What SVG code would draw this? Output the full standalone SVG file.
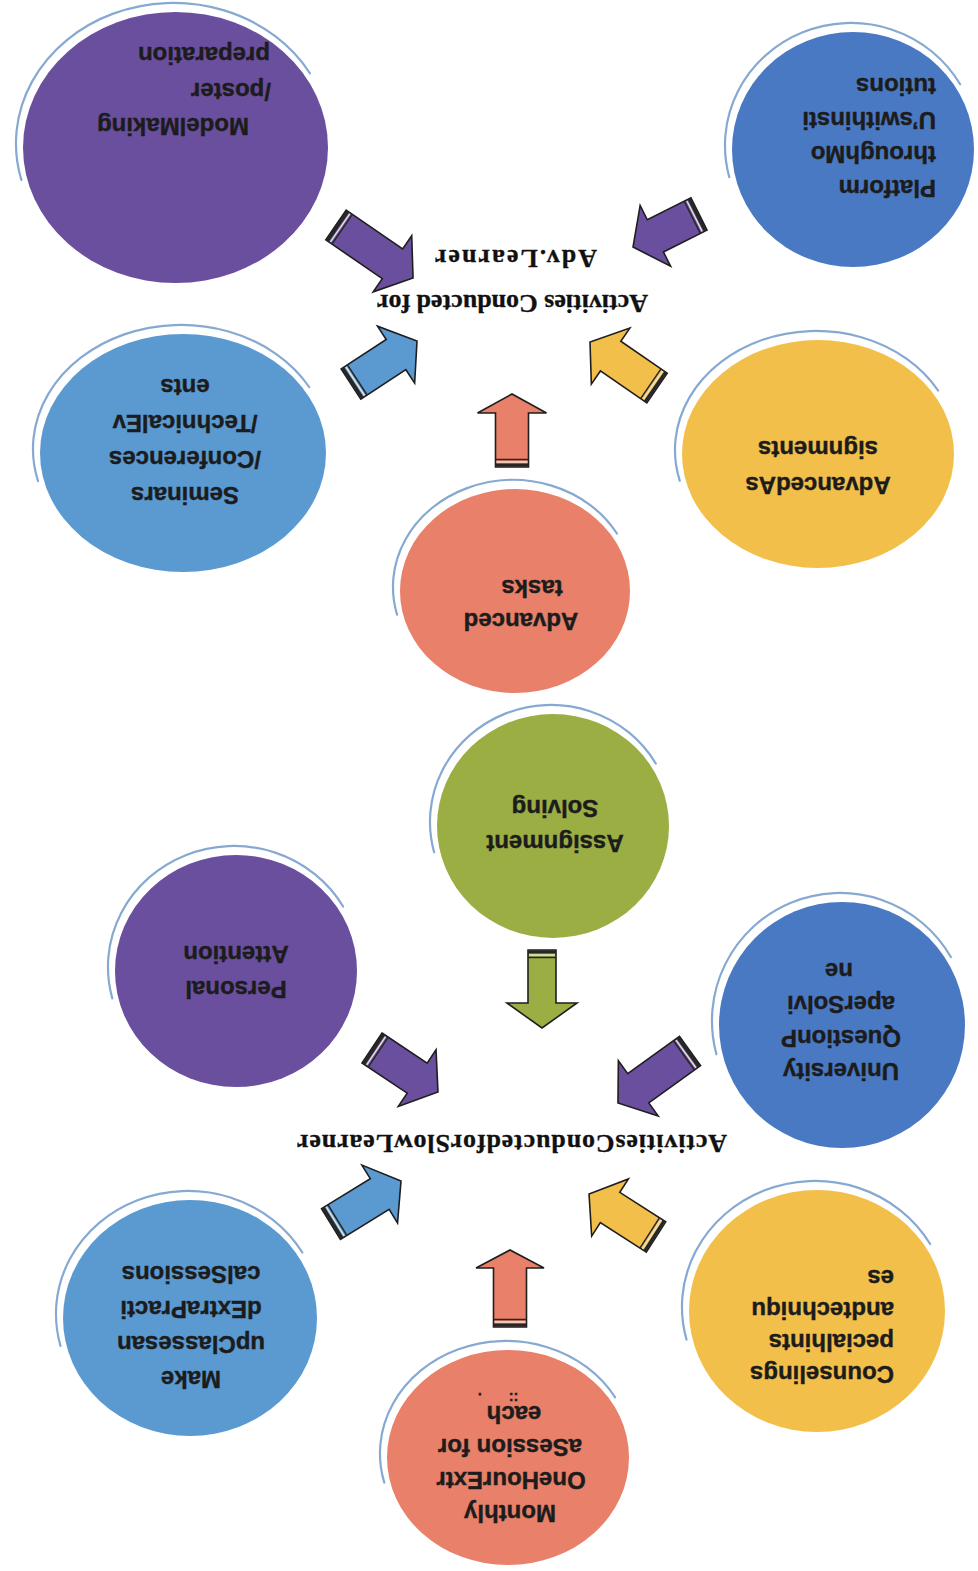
<svg xmlns="http://www.w3.org/2000/svg" xmlns:xlink="http://www.w3.org/1999/xlink" width="978" height="1571" viewBox="0 0 978 1571">
<style>
.nt{font-family:"Liberation Sans",Arial,sans-serif;font-weight:bold;font-size:24px;fill:#1c1c1c;stroke:#1c1c1c;stroke-width:0.4}
.tt{font-family:"Liberation Serif","Times New Roman",serif;font-weight:bold;font-size:26px;fill:#111;stroke:#111;stroke-width:0.3}
.arc{fill:none;stroke:#86a9d2;stroke-width:2.2;vector-effect:non-scaling-stroke;stroke-linecap:round}
.ab{stroke:#1e1e1e;stroke-width:1.6;stroke-linejoin:miter}
.sd{stroke:#262626}
.sl{stroke:#e6e2d6}
.purple{fill:#6a4f9e}.blue{fill:#4a79c4}.lblue{fill:#5a9ad1}.salmon{fill:#e8806a}.yellow{fill:#f2bf4a}.green{fill:#9aae44}
</style>
<defs>
<path id="arc" class="arc" d="M -0.966,0.259 A 1 1 0 0 1 0.866,-0.5"/>
</defs>
<rect width="978" height="1571" fill="#ffffff"/>

<g id="connectors">
<g transform="translate(336,225) rotate(34.5)"><path class="ab purple" d="M0,-18 H68.5 V-34 L93.5,0 L68.5,34 V18 H0 Z"/><line class="sd" x1="2" y1="-18" x2="2" y2="18" stroke-width="3"/><line class="sl" x1="5" y1="-17" x2="5" y2="17" stroke-width="1.5"/><line class="sd" x1="7.5" y1="-18" x2="7.5" y2="18" stroke-width="1.5"/></g>
<g transform="translate(351,384) rotate(-33.1)"><path class="ab lblue" d="M0,-18 H53.8 V-34 L78.8,0 L53.8,34 V18 H0 Z"/><line class="sd" x1="2" y1="-18" x2="2" y2="18" stroke-width="3"/><line class="sl" x1="5" y1="-17" x2="5" y2="17" stroke-width="1.5"/><line class="sd" x1="7.5" y1="-18" x2="7.5" y2="18" stroke-width="1.5"/></g>
<g transform="translate(512,467) rotate(-90)"><path class="ab salmon" d="M0,-16.5 H54 V-34.5 L73,0 L54,34.5 V16.5 H0 Z"/><line class="sd" x1="2" y1="-16.5" x2="2" y2="16.5" stroke-width="3"/><line class="sl" x1="5" y1="-15.5" x2="5" y2="15.5" stroke-width="1.5"/><line class="sd" x1="7.5" y1="-16.5" x2="7.5" y2="16.5" stroke-width="1.5"/></g>
<g transform="translate(657,388) rotate(214.5)"><path class="ab yellow" d="M0,-18 H56.3 V-34 L81.3,0 L56.3,34 V18 H0 Z"/><line class="sd" x1="2" y1="-18" x2="2" y2="18" stroke-width="3"/><line class="sl" x1="5" y1="-17" x2="5" y2="17" stroke-width="1.5"/><line class="sd" x1="7.5" y1="-18" x2="7.5" y2="18" stroke-width="1.5"/></g>
<g transform="translate(699,214) rotate(153.4)"><path class="ab purple" d="M0,-18 H48.8 V-34 L73.8,0 L48.8,34 V18 H0 Z"/><line class="sd" x1="2" y1="-18" x2="2" y2="18" stroke-width="3"/><line class="sl" x1="5" y1="-17" x2="5" y2="17" stroke-width="1.5"/><line class="sd" x1="7.5" y1="-18" x2="7.5" y2="18" stroke-width="1.5"/></g>

<g transform="translate(372,1048) rotate(33.7)"><path class="ab purple" d="M0,-18 H54.3 V-34 L79.3,0 L54.3,34 V18 H0 Z"/><line class="sd" x1="2" y1="-18" x2="2" y2="18" stroke-width="3"/><line class="sl" x1="5" y1="-17" x2="5" y2="17" stroke-width="1.5"/><line class="sd" x1="7.5" y1="-18" x2="7.5" y2="18" stroke-width="1.5"/></g>
<g transform="translate(690,1051) rotate(144.2)"><path class="ab purple" d="M0,-18 H63.8 V-34 L88.8,0 L63.8,34 V18 H0 Z"/><line class="sd" x1="2" y1="-18" x2="2" y2="18" stroke-width="3"/><line class="sl" x1="5" y1="-17" x2="5" y2="17" stroke-width="1.5"/><line class="sd" x1="7.5" y1="-18" x2="7.5" y2="18" stroke-width="1.5"/></g>
<g transform="translate(331,1224) rotate(-31.6)"><path class="ab lblue" d="M0,-18 H57.2 V-34 L82.2,0 L57.2,34 V18 H0 Z"/><line class="sd" x1="2" y1="-18" x2="2" y2="18" stroke-width="3"/><line class="sl" x1="5" y1="-17" x2="5" y2="17" stroke-width="1.5"/><line class="sd" x1="7.5" y1="-18" x2="7.5" y2="18" stroke-width="1.5"/></g>
<g transform="translate(656,1237) rotate(212.7)"><path class="ab yellow" d="M0,-18 H54.6 V-34 L79.6,0 L54.6,34 V18 H0 Z"/><line class="sd" x1="2" y1="-18" x2="2" y2="18" stroke-width="3"/><line class="sl" x1="5" y1="-17" x2="5" y2="17" stroke-width="1.5"/><line class="sd" x1="7.5" y1="-18" x2="7.5" y2="18" stroke-width="1.5"/></g>
<g transform="translate(510,1327) rotate(-90)"><path class="ab salmon" d="M0,-16.5 H59 V-34 L77,0 L59,34 V16.5 H0 Z"/><line class="sd" x1="2" y1="-16.5" x2="2" y2="16.5" stroke-width="3"/><line class="sl" x1="5" y1="-15.5" x2="5" y2="15.5" stroke-width="1.5"/><line class="sd" x1="7.5" y1="-16.5" x2="7.5" y2="16.5" stroke-width="1.5"/></g>
<g transform="translate(542,950) rotate(90)"><path class="ab green" d="M0,-14 H53 V-35 L78,0 L53,35 V14 H0 Z"/><line class="sd" x1="2" y1="-14" x2="2" y2="14" stroke-width="3"/><line class="sl" x1="5" y1="-13" x2="5" y2="13" stroke-width="1.5"/><line class="sd" x1="7.5" y1="-14" x2="7.5" y2="14" stroke-width="1.5"/></g>
</g>

<g id="title-adv">
<text class="tt" x="512.5" y="295" text-anchor="middle" textLength="271" transform="rotate(180 512.5 295)">Activities Conducted for</text>
<text class="tt" x="516" y="250" text-anchor="middle" textLength="162" transform="rotate(180 516 250)">Adv.Learner</text>
</g>
<g id="title-slow">
<text class="tt" x="512" y="1135" text-anchor="middle" textLength="430" transform="rotate(180 512 1135)">ActivitiesConductedforSlowLearner</text>
</g>

<g id="node-modelmaking">
<use href="#arc" transform="translate(173.5,143.5) scale(157.5,140.5)"/>
<ellipse class="purple" cx="175.5" cy="147.5" rx="152.5" ry="135.5"/>
<text class="nt" x="173" y="118" text-anchor="middle" transform="rotate(180 173 118)">ModelMaking</text>
<text class="nt" x="231" y="83" text-anchor="middle" transform="rotate(180 231 83)">/poster</text>
<text class="nt" x="204" y="47" text-anchor="middle" transform="rotate(180 204 47)">preparation</text>
</g>

<g id="node-platform">
<use href="#arc" transform="translate(851,145.5) scale(126,122.5)"/>
<ellipse class="blue" cx="853" cy="149.5" rx="121" ry="117.5"/>
<text class="nt" x="936" y="180" transform="rotate(180 936 180)">Platform</text>
<text class="nt" x="936" y="146" transform="rotate(180 936 146)">throughMo</text>
<text class="nt" x="936" y="112" transform="rotate(180 936 112)">U’swithinsti</text>
<text class="nt" x="936" y="78" transform="rotate(180 936 78)">tutions</text>
</g>

<g id="node-seminars">
<use href="#arc" transform="translate(181,449) scale(148,124)"/>
<ellipse class="lblue" cx="183" cy="453" rx="143" ry="119"/>
<text class="nt" x="185" y="487" text-anchor="middle" transform="rotate(180 185 487)">Seminars</text>
<text class="nt" x="185" y="451" text-anchor="middle" transform="rotate(180 185 451)">/Conferences</text>
<text class="nt" x="185" y="415" text-anchor="middle" transform="rotate(180 185 415)">/TechnicalEv</text>
<text class="nt" x="185" y="379" text-anchor="middle" transform="rotate(180 185 379)">ents</text>
</g>

<g id="node-advtasks">
<use href="#arc" transform="translate(513,587) scale(120,107)"/>
<ellipse class="salmon" cx="515" cy="591" rx="115" ry="102"/>
<text class="nt" x="521" y="613" text-anchor="middle" transform="rotate(180 521 613)">Advanced</text>
<text class="nt" x="532" y="580" text-anchor="middle" transform="rotate(180 532 580)">tasks</text>
</g>

<g id="node-advassign">
<use href="#arc" transform="translate(816,450) scale(141,119)"/>
<ellipse class="yellow" cx="818" cy="454" rx="136" ry="114"/>
<text class="nt" x="818" y="477" text-anchor="middle" transform="rotate(180 818 477)">AdvancedAs</text>
<text class="nt" x="818" y="441" text-anchor="middle" transform="rotate(180 818 441)">signments</text>
</g>

<g id="node-assignment">
<use href="#arc" transform="translate(551,822) scale(121,117)"/>
<ellipse class="green" cx="553" cy="826" rx="116" ry="112"/>
<text class="nt" x="555" y="835" text-anchor="middle" transform="rotate(180 555 835)">Assignment</text>
<text class="nt" x="555" y="800" text-anchor="middle" transform="rotate(180 555 800)">Solving</text>
</g>

<g id="node-personal">
<use href="#arc" transform="translate(234,967) scale(126,121)"/>
<ellipse class="purple" cx="236" cy="971" rx="121" ry="116"/>
<text class="nt" x="236" y="981" text-anchor="middle" transform="rotate(180 236 981)">Personal</text>
<text class="nt" x="236" y="946" text-anchor="middle" transform="rotate(180 236 946)">Attention</text>
</g>

<g id="node-university">
<use href="#arc" transform="translate(840,1021) scale(128,128)"/>
<ellipse class="blue" cx="842" cy="1025" rx="123" ry="123"/>
<text class="nt" x="841" y="1063" text-anchor="middle" transform="rotate(180 841 1063)">University</text>
<text class="nt" x="841" y="1030" text-anchor="middle" transform="rotate(180 841 1030)">QuestionP</text>
<text class="nt" x="841" y="996" text-anchor="middle" transform="rotate(180 841 996)">aperSolvi</text>
<text class="nt" x="839" y="963" text-anchor="middle" transform="rotate(180 839 963)">ne</text>
</g>

<g id="node-makeup">
<use href="#arc" transform="translate(188,1314) scale(132,123)"/>
<ellipse class="lblue" cx="190" cy="1318" rx="127" ry="118"/>
<text class="nt" x="191" y="1371" text-anchor="middle" transform="rotate(180 191 1371)">Make</text>
<text class="nt" x="191" y="1336" text-anchor="middle" transform="rotate(180 191 1336)">upClassesan</text>
<text class="nt" x="191" y="1301" text-anchor="middle" transform="rotate(180 191 1301)">dExtraPracti</text>
<text class="nt" x="191" y="1266" text-anchor="middle" transform="rotate(180 191 1266)">calSessions</text>
</g>

<g id="node-monthly">
<use href="#arc" transform="translate(506,1453.5) scale(126,112.5)"/>
<ellipse class="salmon" cx="508" cy="1457.5" rx="121" ry="107.5"/>
<text class="nt" x="510" y="1505" text-anchor="middle" transform="rotate(180 510 1505)">Monthly</text>
<text class="nt" x="511" y="1472" text-anchor="middle" transform="rotate(180 511 1472)">OneHourExtr</text>
<text class="nt" x="510" y="1439" text-anchor="middle" transform="rotate(180 510 1439)">aSession for</text>
<text class="nt" x="514" y="1406" text-anchor="middle" transform="rotate(180 514 1406)">each</text>
<text class="nt" x="498" y="1393" text-anchor="middle" style="font-size:14px" xml:space="preserve" transform="rotate(180 498 1393)">::       .</text>
</g>

<g id="node-counseling">
<use href="#arc" transform="translate(815,1307) scale(133,126)"/>
<ellipse class="yellow" cx="817" cy="1311" rx="128" ry="121"/>
<text class="nt" x="894" y="1366" transform="rotate(180 894 1366)">Counselings</text>
<text class="nt" x="894" y="1334" transform="rotate(180 894 1334)">pecialhints</text>
<text class="nt" x="894" y="1302" transform="rotate(180 894 1302)">andtechniqu</text>
<text class="nt" x="894" y="1270" transform="rotate(180 894 1270)">es</text>
</g>
</svg>
